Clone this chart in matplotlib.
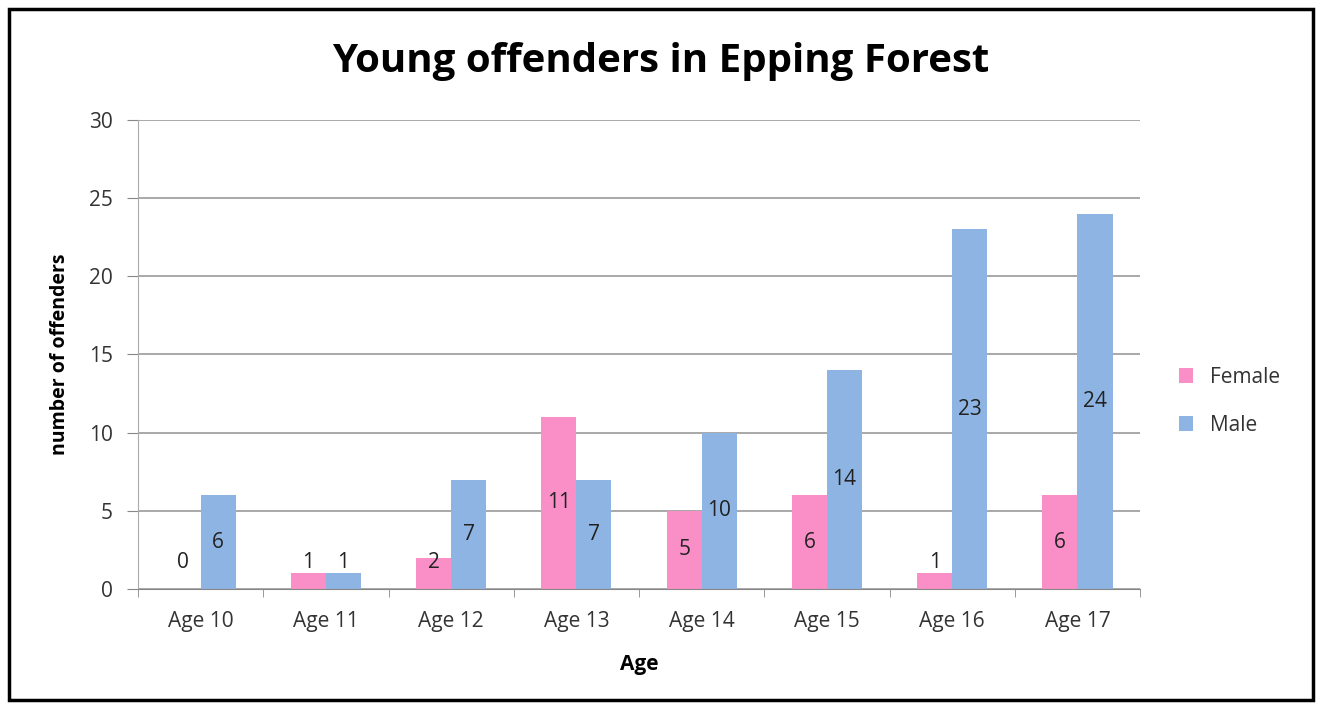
import numpy as np
import matplotlib
matplotlib.use("Agg")
import matplotlib.pyplot as plt
from matplotlib.patches import Rectangle

ages = ["Age 10", "Age 11", "Age 12", "Age 13", "Age 14", "Age 15", "Age 16", "Age 17"]
female = [0, 1, 2, 11, 5, 6, 1, 6]
male = [6, 1, 7, 7, 10, 14, 23, 24]

PINK, BLUE = "#F98FC6", "#8DB4E2"
plt.rcParams["font.family"] = ["Open Sans", "DejaVu Sans"]

fig = plt.figure(figsize=(13.22, 7.09), dpi=100)
ax = fig.add_axes([0.1044, 0.1693, 0.758, 0.6615])
x = np.arange(len(ages)); w = 0.28
ax.bar(x - w/2, female, w, color=PINK, label="Female", zorder=2)
ax.bar(x + w/2, male, w, color=BLUE, label="Male", zorder=2)
for xs, vals in ((x - w/2, female), (x + w/2, male)):
    for xi, v in zip(xs, vals):
        ax.text(xi, max(v/2, 1.7), str(v), ha="center", va="center", fontsize=15, color="#222222", zorder=3)

ax.set_xlim(-0.5, len(ages) - 0.5); ax.set_ylim(0, 30)
ax.set_yticks(range(0, 31, 5))
ax.set_xticks(x); ax.set_xticklabels(ages)
ax.set_xticks(np.arange(len(ages) + 1) - 0.5, minor=True)
ax.tick_params(axis="x", which="major", length=0, pad=16, labelsize=15, labelcolor="#333333")
ax.tick_params(axis="x", which="minor", length=6, color="#888888")
ax.tick_params(axis="y", length=8, color="#888888", labelsize=15, labelcolor="#333333", pad=10)
ax.grid(axis="y", color="#999999", lw=1.2, zorder=0)
for s in ("top", "right"): ax.spines[s].set_visible(False)
ax.spines["left"].set_color("#aaaaaa"); ax.spines["bottom"].set_color("#888888")
ax.set_xlabel("Age", fontsize=15, fontweight="bold", labelpad=16)
ax.set_ylabel("number of offenders", fontsize=14, fontweight="bold", labelpad=14)
fig.text(0.5, 0.913, "Young offenders in Epping Forest", ha="center", va="center", fontsize=29, fontweight="bold")
ax.legend(loc="center left", bbox_to_anchor=(1.02, 0.40), frameon=False, fontsize=15,
          handlelength=0.7, handleheight=0.7, labelspacing=1.3, labelcolor="#333333")
fig.patches.append(Rectangle((0.007, 0.012), 0.986, 0.976, transform=fig.transFigure,
                             fill=False, ec="black", lw=2.5))
fig.savefig("out.png", dpi=100)
